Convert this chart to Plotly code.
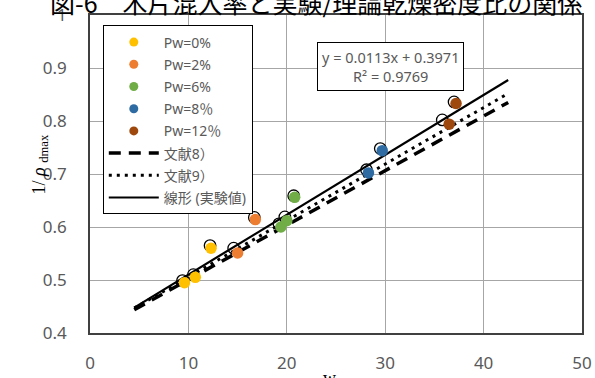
import plotly.graph_objects as go

# Measured points by wood-chip content Pw
pw0_x = [9.6, 10.7, 12.3]
pw0_y = [0.495, 0.505, 0.560]
pw2_x = [15.0, 16.8]
pw2_y = [0.551, 0.614]
pw6_x = [19.4, 20.0, 20.8]
pw6_y = [0.600, 0.612, 0.656]
pw8_x = [28.3, 29.7]
pw8_y = [0.702, 0.744]
pw12_x = [36.5, 37.2]
pw12_y = [0.794, 0.833]

# Open-circle companion points
open_x = [9.4, 10.5, 12.2, 14.6, 16.7, 19.2, 19.8, 20.7, 28.1, 29.5, 35.8, 37.0]
open_y = [0.499, 0.510, 0.565, 0.560, 0.618, 0.606, 0.619, 0.659, 0.708, 0.748, 0.802, 0.836]

# Reference lines from the literature
ref8_x = [4.5, 42.5]
ref8_y = [0.444, 0.835]
ref9_x = [4.5, 42.5]
ref9_y = [0.447, 0.852]

# Linear fit of the test values
fit_slope = 0.0113
fit_intercept = 0.3971
fit_r2 = 0.9769
fit_x = [4.5, 42.5]
fit_y = [fit_slope * v + fit_intercept for v in fit_x]

series = [
    ("Pw=0%", pw0_x, pw0_y, "#FFC000"),
    ("Pw=2%", pw2_x, pw2_y, "#ED7D31"),
    ("Pw=6%", pw6_x, pw6_y, "#70AD47"),
    ("Pw=8％", pw8_x, pw8_y, "#2E6BA3"),
    ("Pw=12％", pw12_x, pw12_y, "#9E480E"),
]

fig = go.Figure()

fig.add_trace(go.Scatter(
    x=open_x, y=open_y, mode="markers", showlegend=False, hoverinfo="skip",
    marker=dict(size=11.5, color="white", line=dict(color="black", width=1.3)),
))

line_specs = [
    ("文献8）", ref8_x, ref8_y, dict(color="black", width=3.5, dash="12px,8px")),
    ("文献9）", ref9_x, ref9_y, dict(color="black", width=3, dash="3px,5px")),
    ("線形 (実験値)", fit_x, fit_y, dict(color="black", width=2.2)),
]
for name, xs, ys, ln in line_specs:
    fig.add_trace(go.Scatter(x=xs, y=ys, mode="lines", line=ln,
                             showlegend=False, hoverinfo="skip"))

for name, xs, ys, col in series:
    fig.add_trace(go.Scatter(x=xs, y=ys, mode="markers", showlegend=False,
                             marker=dict(size=11.5, color=col)))

# Legend entries (smaller symbols than on the plot)
for i, (name, xs, ys, col) in enumerate(series):
    fig.add_trace(go.Scatter(x=[None], y=[None], mode="markers", name=name,
                             legendgroup=f"g{i}",
                             marker=dict(size=9, color=col)))
for j, (name, xs, ys, ln) in enumerate(line_specs):
    fig.add_trace(go.Scatter(x=[None], y=[None], mode="lines", name=name,
                             legendgroup=f"h{j}", line=ln))

tick_font = dict(family="Noto Sans, Open Sans, sans-serif", size=17, color="#595959")

fig.update_layout(
    width=595, height=378,
    margin=dict(l=90, r=13, t=15, b=45, autoexpand=False),
    paper_bgcolor="white", plot_bgcolor="white",
    showlegend=True,
    legend=dict(
        x=0.026, y=0.967, xanchor="left", yanchor="top",
        bgcolor="white", bordercolor="black", borderwidth=1,
        font=dict(family="Noto Sans, Noto Sans CJK JP, sans-serif", size=14, color="#595959"),
        itemwidth=50, tracegroupgap=1,
    ),
    xaxis=dict(
        range=[0, 50], dtick=10, tick0=0, automargin=False,
        showgrid=True, gridcolor="#A6A6A6", gridwidth=1.3,
        showline=True, linecolor="#404040", linewidth=1.5, mirror=True,
        ticks="", ticklabelstandoff=14, tickfont=tick_font, zeroline=False,
    ),
    yaxis=dict(
        range=[0.4, 1.0], dtick=0.1, tick0=0.4, automargin=False,
        showgrid=True, gridcolor="#A6A6A6", gridwidth=1.3,
        showline=True, linecolor="#404040", linewidth=1.5, mirror=True,
        ticks="", ticklabelstandoff=18, tickfont=tick_font, zeroline=False,
    ),
)

# Fit equation box
fig.add_annotation(
    xref="paper", yref="paper", x=(390 - 90) / 492, y=1 - (67 - 15) / 318,
    xanchor="center", yanchor="middle",
    text=f"y = {fit_slope}x + {fit_intercept}<br>R² = {fit_r2}",
    showarrow=False, align="center",
    font=dict(family="Noto Sans, sans-serif", size=14.5, color="#595959"),
    bgcolor="white", bordercolor="black", borderwidth=1, borderpad=4,
)

# Figure caption along the top edge
fig.add_annotation(
    xref="paper", yref="paper", x=(48 - 90) / 492, y=1.041,
    xanchor="left", yanchor="middle", showarrow=False,
    text="図-6　木片混入率と実験/理論乾燥密度比の関係",
    font=dict(family="Noto Sans CJK JP, sans-serif", size=25, color="black"),
)

# Axis titles
fig.add_annotation(
    xref="paper", yref="paper", x=(40 - 90) / 492, y=0.53,
    xanchor="center", yanchor="middle", textangle=-90, showarrow=False,
    text="1/ <i>ρ</i> <sub>dmax</sub>",
    font=dict(family="Liberation Serif, serif", size=18, color="black"),
)
fig.add_annotation(
    xref="paper", yref="paper", x=(329 - 90) / 492, y=-(45 / 318),
    xanchor="center", yanchor="middle", showarrow=False,
    text="w",
    font=dict(family="Liberation Serif, serif", size=18, color="black"),
)

fig.write_html("out.html")
